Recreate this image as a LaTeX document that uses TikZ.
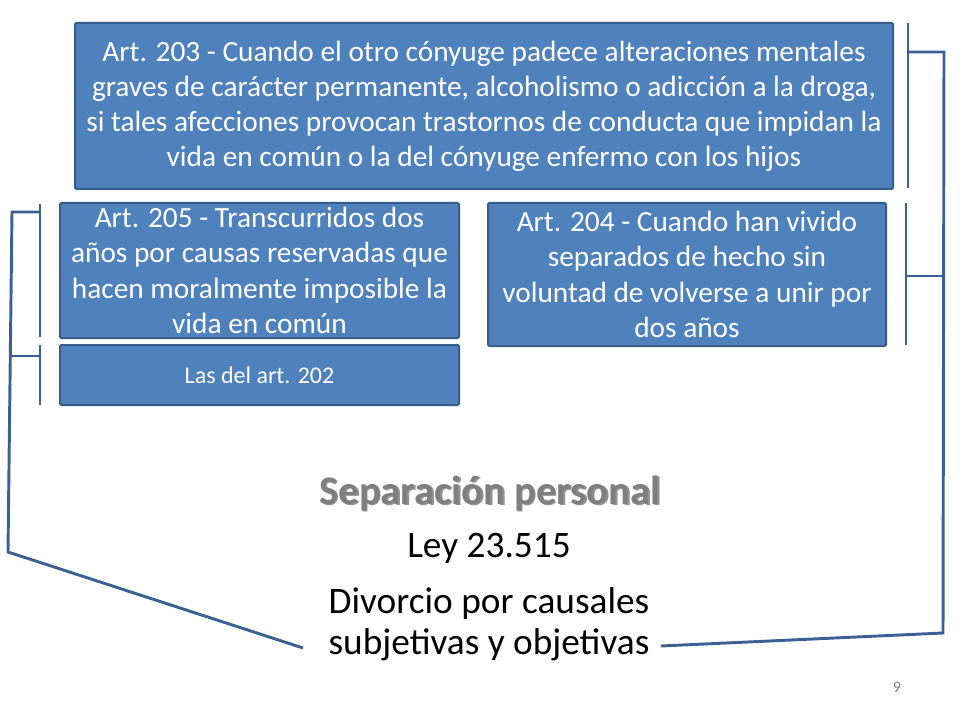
\documentclass[tikz,border=0pt]{standalone}
\usepackage{fontspec}
\setmainfont{Carlito}
\definecolor{cajaazul}{RGB}{79,129,189}
\definecolor{bordeazul}{RGB}{56,93,138}
\definecolor{lineaazul}{RGB}{60,96,148}
\definecolor{grisTitulo}{RGB}{127,127,127}
\tikzset{
	caja/.style={draw=bordeazul, line width=1.5pt, fill=cajaazul, rounded corners=1pt, text=white, align=center, inner sep=0pt},
	llave/.style={lineaazul, line width=2.2pt},
	texto/.style={align=center, inner sep=0pt}
}
\begin{document}
\begin{tikzpicture}[x=0.75pt,y=-0.75pt]
	\useasboundingbox (0,0) rectangle (960,720);

	\node[caja, minimum width=613.5pt, minimum height=124.5pt, font=\fontsize{22}{26.3}\selectfont] (art203) at (484,106)
		{Art. 203 - Cuando el otro cónyuge padece alteraciones mentales\\graves de carácter permanente, alcoholismo o adicción a la droga,\\si tales afecciones provocan trastornos de conducta que impidan la\\vida en común o la del cónyuge enfermo con los hijos};
	\node[caja, minimum width=299.25pt, minimum height=101.25pt, font=\fontsize{22}{26.4}\selectfont] (art205) at (259.5,270.5)
		{Art. 205 - Transcurridos dos\\años por causas reservadas que\\hacen moralmente imposible la\\vida en común};
	\node[caja, minimum width=298.5pt, minimum height=107.25pt, font=\fontsize{22}{26.4}\selectfont] (art204) at (687,274.5)
		{Art. 204 - Cuando han vivido\\separados de hecho sin\\voluntad de volverse a unir por\\dos años};
	\node[caja, minimum width=299.25pt, minimum height=45pt, font=\fontsize{18}{22}\selectfont] (art202) at (259.5,375)
		{Las del art. 202};

	% titulo con sombra
	\node[texto, text=black!70, opacity=0.6, font=\fontsize{30.5}{36}\selectfont\bfseries] at (491.5,494.5) {Separación personal};
	\node[texto, text=grisTitulo, font=\fontsize{30.5}{36}\selectfont\bfseries] (titulo) at (490,493) {Separación personal};
	\node[texto, font=\fontsize{28}{30}\selectfont] (ley) at (489,548) {Ley 23.515};
	\node[texto, font=\fontsize{28}{31}\selectfont] (divorcio) at (489,624) {Divorcio por causales\\subjetivas y objetivas};
	\node[texto, text=grisTitulo, font=\fontsize{12}{14}\selectfont] (pagina) at (897,687) {9};

	% llave derecha
	\coordinate (RA) at (908,23);
	\coordinate (RB) at (908,188);
	\coordinate (RC) at (906,203);
	\coordinate (RD) at (906,345);
	\coordinate (R1) at (944,52);
	\coordinate (R2) at (942,276);
	\coordinate (R3) at (943,633);
	\coordinate (R4) at (661,646);
	\draw[llave] (RA) -- (RB);
	\draw[llave] (RC) -- (RD);
	\draw[llave] (RA |- R1) -- (R1) -- (R3) -- (R4);
	\draw[llave] (RC |- R2) -- (R2);

	% llave izquierda
	\coordinate (LA) at (40,204);
	\coordinate (LB) at (40,337);
	\coordinate (LC) at (40,345);
	\coordinate (LD) at (40,405);
	\coordinate (L1) at (12,212);
	\coordinate (L2) at (12,356);
	\coordinate (L3) at (8,552);
	\coordinate (L4) at (303,648);
	\draw[llave] (LA) -- (LB);
	\draw[llave] (LC) -- (LD);
	\draw[llave] (LA |- L1) -- (L1) -- (L3) -- (L4);
	\draw[llave] (LC |- L2) -- (L2);
\end{tikzpicture}
\end{document}
